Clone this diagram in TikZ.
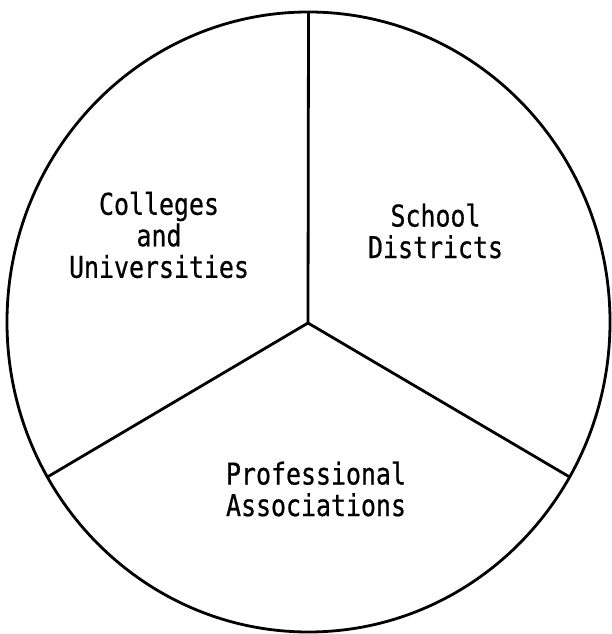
\documentclass[tikz,border=0pt]{standalone}
\usepackage{fontspec}
\newfontfamily\typewriter[FakeStretch=0.83,FakeBold=0.6]{DejaVu Sans Mono}
\usetikzlibrary{calc,positioning}

\begin{document}
\begin{tikzpicture}[x=1pt, y=1pt, line width=2.8pt,
    sector/.style={inner sep=0pt, align=center, font=\typewriter\fontsize{30}{31.5}\selectfont}]
    \useasboundingbox (0,0) rectangle (612,634);

    \coordinate (ctr) at (308.5,312);
    \coordinate (hub) at (308,311);
    \coordinate (top) at ($(ctr)+(90:301.5 and 310)$);
    \coordinate (lft) at ($(ctr)+(210:301.5 and 310)$);
    \coordinate (rgt) at ($(ctr)+(330:301.5 and 310)$);

    %% Labels
    \node at (159,399) [sector] (col){Colleges\\and\\Universities};
    \node at (435.5,403) [sector] (sch){School\\Districts};
    \node at (316,145) [sector] (pro){Professional\\Associations};

    %% Outline and spokes
    \draw (ctr) ellipse [x radius=301.5, y radius=310];
    \draw (hub) -- (top);
    \draw (hub) -- (lft);
    \draw (hub) -- (rgt);
\end{tikzpicture}
\end{document}
